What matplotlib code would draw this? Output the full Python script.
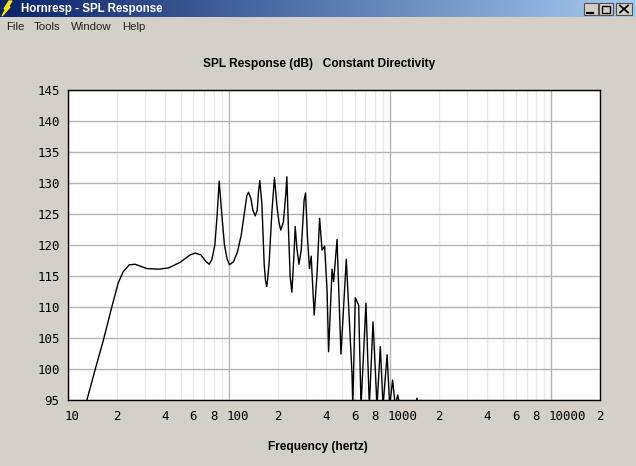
import numpy as np
import matplotlib
matplotlib.use("Agg")
import matplotlib.pyplot as plt
from matplotlib.colors import LinearSegmentedColormap
from matplotlib.patches import Polygon, Rectangle

# curve, values under 95 dB are clipped by the axes
freq = [13.1, 14.7, 16.6, 18.7, 20.5, 22.0, 24.0, 26.1, 30.8, 36.4, 42.0, 49.6, 57.2, 61.5, 66.7, 72, 75.1,
        78, 81.5, 84.2, 86.7, 90.1, 93.5, 97, 100.4, 106.4, 112.7, 118.8, 124.5, 128.8, 131.8, 136.4, 140.4, 145,
        149.3, 152, 155, 159.7, 165, 168, 171, 173, 177, 184, 191, 198, 203.6, 209, 217, 225, 228, 233, 239, 245,
        252, 257, 263, 271, 280, 292, 298,
        306, 315, 323, 326, 337, 351, 364, 377, 391, 405, 414, 435, 445, 467, 494, 533, 578, 585,
        606, 636, 658, 706, 741, 781, 827, 867, 901, 955, 991, 1033, 1074, 1110, 1153, 1420, 1465, 1510]
spl = [95, 99.8, 104.7, 110.0, 113.9, 115.7, 116.8, 116.9, 116.2, 116.1, 116.3, 117.2, 118.4, 118.7, 118.4, 117.3, 116.9,
       117.6, 120, 124.8, 130.3, 124.8, 120, 117.8, 116.8, 117.3, 118.9, 121.6, 125.3, 128, 128.5, 127.5, 125.6, 124.7,
       125.6, 128.5, 130.4, 126.5, 116.8, 114.3, 113.3, 114.3, 117.1, 125.2, 130.9, 126.2, 123.7, 122.4, 123.7, 128.5, 131, 123, 114.9, 112.4,
       118.1, 123, 119.5, 116.9, 119.2, 127.3, 128.4,
       121.3, 116.2, 118.2, 116, 108.7, 115.4, 124.3, 119.2, 119.8, 112.7, 102.8, 116.1, 114.1, 120.9, 102.4, 117.7, 99.4, 94,
       111.5, 110.3, 94, 110.6, 94, 107.6, 94, 103.6, 94, 102.3, 94, 98.2, 94, 95.8, 94, 94, 95.3, 94]

y_ticks = [95, 100, 105, 110, 115, 120, 125, 130, 135, 140, 145]
x_ticks = [10, 20, 40, 60, 80, 100, 200, 400, 600, 800, 1000, 2000, 4000, 6000, 8000, 10000, 20000]
x_labels = ["10", "2", "4", "6", "8", "100", "2", "4", "6", "8", "1000", "2", "4", "6", "8", "10000", "2"]
menu_names = ["File", "Tools", "Window", "Help"]
menu_x = [6, 34, 71, 122]

W, H = 636, 466
bg = "#d4d0c8"
plt.rcParams["font.family"] = ["Liberation Sans", "DejaVu Sans"]

fig = plt.figure(figsize=(W / 100, H / 100), dpi=100, facecolor=bg)

# window chrome, in pixels
chrome = fig.add_axes([0, 0, 1, 1], zorder=0)
bar = LinearSegmentedColormap.from_list("bar", ["#0a246a", "#a6caf0"])
chrome.imshow(np.linspace(0, 1, 256)[None, :], extent=[0, W, 17, 0], cmap=bar, aspect="auto")
chrome.set_xlim(0, W)
chrome.set_ylim(H, 0)
chrome.axis("off")
chrome.add_patch(Polygon([[9, 1], [4, 9], [6, 9], [2, 16], [10, 7], [8, 7], [12, 1]], color="#ffe800"))
chrome.text(21, 9, "Hornresp - SPL Response", color="white", fontsize=8.3, fontweight="bold", va="center")
for x0, w0 in [(584, 14), (599, 14), (616, 16)]:
    chrome.add_patch(Rectangle((x0, 3), w0, 12, fc=bg, ec="#505050", lw=0.8))
chrome.plot([587, 593], [12.5, 12.5], color="black", lw=1.6)
chrome.add_patch(Rectangle((602, 5.5), 8, 7, fc="none", ec="black", lw=1))
chrome.plot([620, 628], [5.5, 12.5], color="black", lw=1.3)
chrome.plot([620, 628], [12.5, 5.5], color="black", lw=1.3)
for name, mx in zip(menu_names, menu_x):
    chrome.text(mx, 27.5, name, fontsize=8.2, color="#222222", va="center")
chrome.text(319, 63.5, "SPL Response (dB)   Constant Directivity", fontsize=8.6, fontweight="bold", ha="center", va="center")
chrome.text(318, 447, "Frequency (hertz)", fontsize=8.6, fontweight="bold", ha="center", va="center")

# plot area
ax = fig.add_axes([68 / W, 1 - 400 / H, 532 / W, 310 / H], zorder=1, facecolor="white")
ax.set_xscale("log")
ax.set_xlim(10, 20000)
ax.set_ylim(95, 145)

ax.xaxis.set_major_locator(matplotlib.ticker.FixedLocator([10, 100, 1000, 10000]))
ax.xaxis.set_minor_locator(matplotlib.ticker.FixedLocator(
    [m * d for d in (10, 100, 1000) for m in range(2, 10)] + [20000]))
ax.xaxis.set_minor_formatter(matplotlib.ticker.NullFormatter())
ax.xaxis.set_major_formatter(matplotlib.ticker.NullFormatter())
ax.grid(True, which="major", axis="x", color="#b4b4b4", lw=1)
ax.grid(True, which="minor", axis="x", color="#e8e8e8", lw=1)
ax.set_yticks(y_ticks)
ax.set_yticklabels([str(v) for v in y_ticks], fontsize=9, family="DejaVu Sans Mono")
ax.grid(True, axis="y", color="#b4b4b4", lw=1)
ax.tick_params(which="both", length=0)
ax.tick_params(axis="y", pad=6)
ax.set_axisbelow(True)
for s in ax.spines.values():
    s.set_linewidth(1)
    s.set_color("black")

ax.plot(freq, spl, color="black", lw=1, solid_joinstyle="round")

# tick labels: decades start just left of the grid line, the digits sit centred on it
for val, lab in zip(x_ticks, x_labels):
    wide = len(lab) > 1
    ax.annotate(lab, (val, 0), xycoords=ax.get_xaxis_transform(),
                xytext=(-3 if wide else 0, -16), textcoords="offset pixels",
                fontsize=9, family="DejaVu Sans Mono", va="center", ha="left" if wide else "center",
                annotation_clip=False)

fig.savefig("out.png", dpi=100, facecolor=bg)
